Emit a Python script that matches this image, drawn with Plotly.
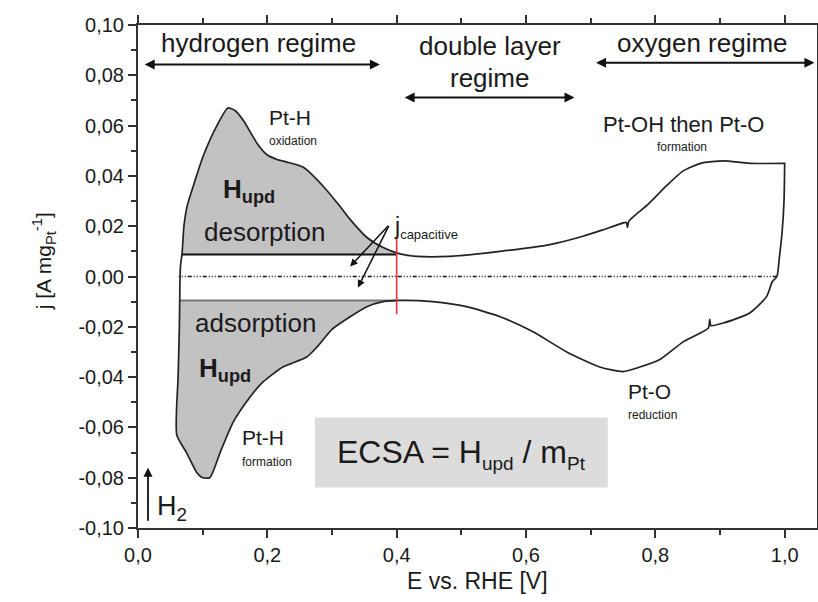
import plotly.graph_objects as go

# ---------------- data ----------------
anodic_E = [0.060, 0.062, 0.064, 0.065, 0.066, 0.068, 0.071, 0.076, 0.088, 0.101, 0.122, 0.139,
            0.150, 0.163, 0.184, 0.199, 0.215, 0.230, 0.255, 0.286, 0.312, 0.328, 0.354, 0.379,
            0.405, 0.431, 0.482, 0.560, 0.637, 0.688, 0.730, 0.755, 0.757, 0.759, 0.790, 0.817,
            0.843, 0.870, 0.905, 0.946, 1.000]
anodic_j = [-0.063, -0.040, -0.020, 0.000, 0.005, 0.0087, 0.020, 0.028, 0.038, 0.048, 0.060, 0.067,
            0.066, 0.062, 0.053, 0.0485, 0.0465, 0.0455, 0.0435, 0.036, 0.028, 0.0227, 0.0155, 0.0115,
            0.009, 0.008, 0.008, 0.010, 0.0127, 0.016, 0.0195, 0.0215, 0.0195, 0.022, 0.029, 0.036,
            0.042, 0.045, 0.046, 0.045, 0.045]

cath_E = [1.000, 0.999, 0.996, 0.992, 0.988, 0.981, 0.972, 0.946, 0.905, 0.886, 0.884, 0.882,
          0.843, 0.807, 0.776, 0.750, 0.714, 0.663, 0.611, 0.560, 0.508, 0.456, 0.405, 0.379,
          0.354, 0.328, 0.300, 0.277, 0.261, 0.224, 0.193, 0.173, 0.147, 0.127, 0.111, 0.100,
          0.091, 0.075, 0.060]
cath_j = [0.045, 0.030, 0.0175, 0.008, 0.000, -0.002, -0.008, -0.0145, -0.0185, -0.0195, -0.017, -0.0205,
          -0.026, -0.033, -0.036, -0.0378, -0.036, -0.030, -0.022, -0.016, -0.012, -0.010, -0.0095, -0.010,
          -0.012, -0.016, -0.021, -0.028, -0.032, -0.036, -0.042, -0.048, -0.058, -0.070, -0.080, -0.080,
          -0.078, -0.070, -0.063]

upper_base = 0.0087
lower_base = -0.0095
E_cap = 0.40
red_j = [0.0155, -0.015]
zero_E = [0.063, 0.988]

x_ticks = [0.0, 0.2, 0.4, 0.6, 0.8, 1.0]
x_ticktext = ["0,0", "0,2", "0,4", "0,6", "0,8", "1,0"]
y_ticks = [0.10, 0.08, 0.06, 0.04, 0.02, 0.00, -0.02, -0.04, -0.06, -0.08, -0.10]
y_ticktext = ["0,10", "0,08", "0,06", "0,04", "0,02", "0,00", "-0,02", "-0,04", "-0,06", "-0,08", "-0,10"]

# ---------------- figure ----------------
FONT = "Liberation Sans, Arial, sans-serif"
TXT = "#1a1a1a"
GRAY = "#c2c2c2"

fig = go.Figure()

# upper shaded (H_upd desorption)
up_x = [e for e, j in zip(anodic_E, anodic_j) if 0.068 <= e <= 0.405]
up_y = [j for e, j in zip(anodic_E, anodic_j) if 0.068 <= e <= 0.405]
fig.add_trace(go.Scatter(x=up_x + [E_cap, up_x[0]], y=up_y + [upper_base, upper_base],
                         fill="toself", fillcolor=GRAY, line=dict(width=0), mode="lines",
                         hoverinfo="skip", showlegend=False))

# lower shaded (H_upd adsorption)
lo_x = [e for e in cath_E if e <= 0.405] + [anodic_E[1], anodic_E[2], 0.0645, E_cap]
lo_y = [j for e, j in zip(cath_E, cath_j) if e <= 0.405] + [anodic_j[1], anodic_j[2], lower_base, lower_base]
fig.add_trace(go.Scatter(x=lo_x, y=lo_y, fill="toself", fillcolor=GRAY, line=dict(width=0),
                         mode="lines", hoverinfo="skip", showlegend=False))

# baselines
fig.add_trace(go.Scatter(x=[up_x[0], E_cap], y=[upper_base, upper_base], mode="lines",
                         line=dict(color="#111", width=2), showlegend=False, hoverinfo="skip"))
fig.add_trace(go.Scatter(x=[0.0645, E_cap], y=[lower_base, lower_base], mode="lines",
                         line=dict(color="#777", width=2), showlegend=False, hoverinfo="skip"))

# zero line
fig.add_trace(go.Scatter(x=zero_E, y=[0, 0], mode="lines",
                         line=dict(color="#111", width=1.6, dash="1px,2px,1px,2px,1px,2px,4px,2px"),
                         showlegend=False, hoverinfo="skip"))

# CV curve
fig.add_trace(go.Scatter(x=anodic_E + cath_E, y=anodic_j + cath_j, mode="lines",
                         line=dict(color="#222", width=1.7, shape="spline", smoothing=0.6),
                         showlegend=False, hoverinfo="skip"))

# red line
fig.add_trace(go.Scatter(x=[E_cap, E_cap], y=red_j, mode="lines",
                         line=dict(color="#e8323c", width=1.6), showlegend=False, hoverinfo="skip"))

# ECSA box
fig.add_shape(type="rect", x0=0.2736, x1=0.7264, y0=-0.0839, y1=-0.0561,
              fillcolor="#dcdcdc", line=dict(width=0), layer="below")

def arrow(x0, y0, x1, y1, both=False, width=2, size=1.0):
    fig.add_annotation(x=x1, y=y1, ax=x0, ay=y0, xref="x", yref="y", axref="x", ayref="y",
                       text="", showarrow=True, arrowhead=2, startarrowhead=2,
                       arrowside="end+start" if both else "end",
                       arrowsize=size, startarrowsize=size, arrowwidth=width, arrowcolor="#111")

# regime arrows
arrow(0.008, 0.0843, 0.374, 0.0843, both=True)
arrow(0.41, 0.0712, 0.675, 0.0712, both=True)
arrow(0.706, 0.085, 1.046, 0.085, both=True)
# j_capacitive arrows
arrow(0.389, 0.0207, 0.328, 0.004, width=1.5)
arrow(0.389, 0.0207, 0.340, -0.0044, width=1.5)
# H2 arrow
arrow(0.0155, -0.0977, 0.0155, -0.076, width=1.8)

def label(x, y, text, size, anchor="center", yanchor="middle"):
    fig.add_annotation(x=x, y=y, xref="x", yref="y", text=text, showarrow=False,
                       xanchor=anchor, yanchor=yanchor, font=dict(family=FONT, size=size, color=TXT))

label(0.187, 0.0930, "hydrogen regime", 26)
label(0.544, 0.0918, "double layer", 26)
label(0.544, 0.0788, "regime", 26)
label(0.873, 0.0930, "oxygen regime", 26)

label(0.199, 0.0632, "Pt-H", 21, anchor="left")
label(0.199, 0.0537, "oxidation", 12, anchor="left")
label(0.128, 0.034, "<b>H<sub>upd</sub></b>", 26, anchor="left")
label(0.196, 0.0175, "desorption", 26)
label(0.393, 0.0195, "j<sub><span style='font-size:13px'>capacitive</span></sub>", 23, anchor="left")

label(0.844, 0.0604, "Pt-OH then Pt-O", 22)
label(0.842, 0.0513, "formation", 12)

label(0.182, -0.0183, "adsorption", 26)
label(0.092, -0.037, "<b>H<sub>upd</sub></b>", 26, anchor="left")
label(0.158, -0.064, "Pt-H", 21, anchor="left")
label(0.158, -0.0736, "formation", 12, anchor="left")

label(0.754, -0.0457, "Pt-O", 21, anchor="left")
label(0.754, -0.0549, "reduction", 12, anchor="left")

label(0.027, -0.092, "H<sub>2</sub>", 27, anchor="left")
label(0.500, -0.0705, "ECSA = H<sub><span style='font-size:19px'>upd</span></sub> / m<sub><span style='font-size:19px'>Pt</span></sub>", 32)

# axis titles
fig.add_annotation(x=-0.163, y=0.53, xref="paper", yref="paper", showarrow=False, textangle=-90,
                   text="j [A mg<sub>Pt</sub><sup>-1</sup>]", font=dict(family=FONT, size=21, color=TXT))
fig.add_annotation(x=0.50, y=-0.135, xref="paper", yref="paper", showarrow=False,
                   text="E vs. RHE [V]", font=dict(family=FONT, size=23, color=TXT))

axis_common = dict(showline=True, linecolor="#333", linewidth=2, mirror="ticks", ticks="outside",
                   ticklen=8, tickwidth=2, tickcolor="#333", showgrid=False, zeroline=False,
                   tickfont=dict(family=FONT, size=20, color=TXT))

fig.update_layout(
    width=818, height=602,
    margin=dict(l=138, r=1, t=25, b=74, autoexpand=False),
    plot_bgcolor="white", paper_bgcolor="white",
    xaxis=dict(range=[0, 1.05], tickvals=x_ticks, ticktext=x_ticktext,
               minor=dict(ticks="outside", ticklen=5, tickwidth=1.5, tickcolor="#333", dtick=0.1, tick0=0),
               **axis_common),
    yaxis=dict(range=[-0.1, 0.1], tickvals=y_ticks, ticktext=y_ticktext,
               minor=dict(ticks="outside", ticklen=5, tickwidth=1.5, tickcolor="#333", dtick=0.01, tick0=0),
               **axis_common),
)

fig.write_html("out.html")
